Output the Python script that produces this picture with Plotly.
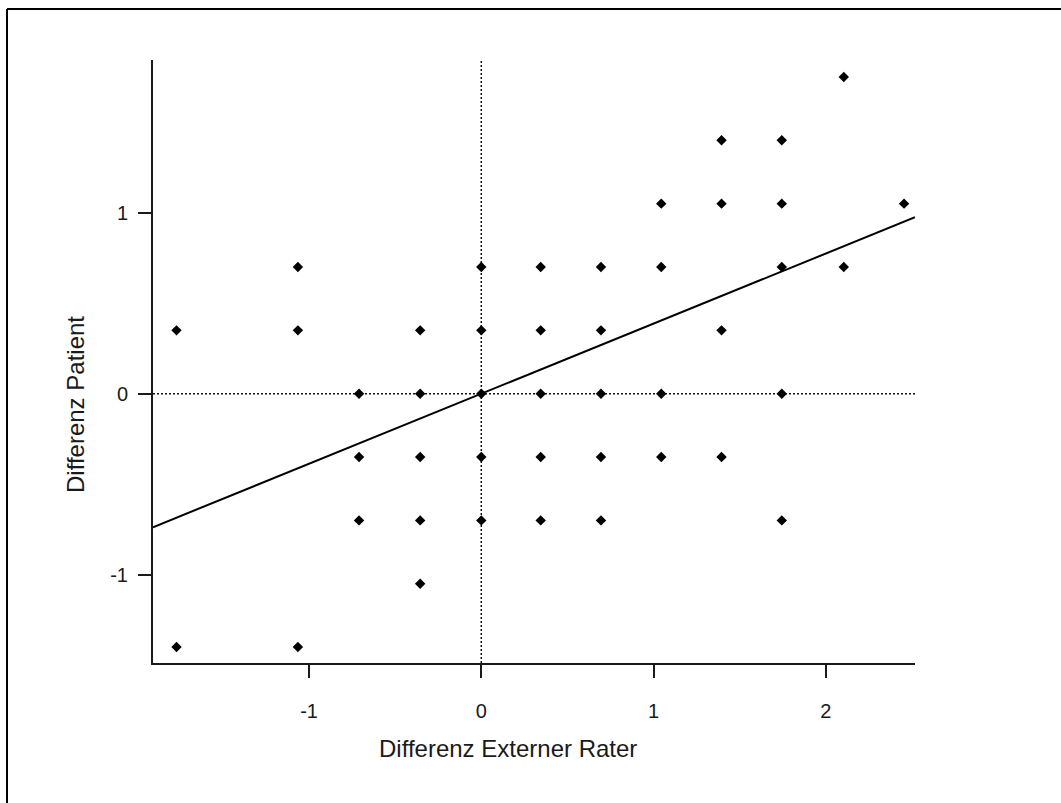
import plotly.graph_objects as go

# ---- data ----
diff_rater = [
    2.105,
    1.395, 1.745,
    1.045, 1.395, 1.745, 2.455,
    -1.065, 0.0, 0.345, 0.695, 1.045, 1.745, 2.105,
    -1.77, -1.065, -0.355, 0.0, 0.345, 0.695, 1.395,
    -0.71, -0.355, 0.0, 0.345, 0.695, 1.045, 1.745,
    -0.71, -0.355, 0.0, 0.345, 0.695, 1.045, 1.395,
    -0.71, -0.355, 0.0, 0.345, 0.695, 1.745,
    -0.355,
    -1.77, -1.065,
]
diff_patient = [
    1.75,
    1.40, 1.40,
    1.05, 1.05, 1.05, 1.05,
    0.70, 0.70, 0.70, 0.70, 0.70, 0.70, 0.70,
    0.35, 0.35, 0.35, 0.35, 0.35, 0.35, 0.35,
    0.0, 0.0, 0.0, 0.0, 0.0, 0.0, 0.0,
    -0.35, -0.35, -0.35, -0.35, -0.35, -0.35, -0.35,
    -0.70, -0.70, -0.70, -0.70, -0.70, -0.70,
    -1.05,
    -1.40, -1.40,
]

fit_slope = 0.387
fit_intercept = 0.0

x_range = [-1.9065, 2.5186]
y_range = [-1.488, 1.8436]

x_tickvals = [-1, 0, 1, 2]
x_ticktext = ["-1", "0", "1", "2"]
y_tickvals = [-1, 0, 1]
y_ticktext = ["-1", "0", "1"]

x_title = "Differenz Externer Rater"
y_title = "Differenz Patient"

# ---- figure ----
FONT = "Arial, 'Liberation Sans', sans-serif"
INK = "#1a1a1a"

fig = go.Figure()

fit_x = x_range
fit_y = [fit_intercept + fit_slope * v for v in fit_x]

fig.add_hline(y=0, line=dict(color="#111111", width=1.5, dash="2px,2px"), layer="below")
fig.add_vline(x=0, line=dict(color="#111111", width=1.5, dash="2px,2px"), layer="below")

fig.add_trace(go.Scatter(
    x=fit_x, y=fit_y, mode="lines",
    line=dict(color="black", width=2),
    showlegend=False, hoverinfo="skip", cliponaxis=True,
))

fig.add_trace(go.Scatter(
    x=diff_rater, y=diff_patient, mode="markers",
    marker=dict(symbol="diamond", size=8, color="black", line=dict(width=0)),
    showlegend=False,
))

axis_common = dict(
    showline=True, linewidth=2, linecolor=INK,
    showgrid=False, zeroline=False,
    ticks="outside", ticklen=13, tickwidth=2, tickcolor=INK,
    tickfont=dict(family=FONT, size=20, color=INK),
)

fig.update_xaxes(range=x_range, tickvals=x_tickvals, ticktext=x_ticktext,
                 ticklabelstandoff=16, **axis_common)
fig.update_yaxes(range=y_range, tickvals=y_tickvals, ticktext=y_ticktext,
                 ticklabelstandoff=6, **axis_common)

# axis titles (positioned as in the reference)
fig.add_annotation(text=x_title, xref="paper", yref="paper",
                   x=0.4659, y=-0.141, xanchor="center", yanchor="middle",
                   showarrow=False, font=dict(family=FONT, size=24, color=INK))
fig.add_annotation(text=y_title, xref="paper", yref="paper",
                   x=-0.1024, y=0.4295, xanchor="center", yanchor="middle",
                   textangle=-90,
                   showarrow=False, font=dict(family=FONT, size=24, color=INK))

# outer frame: only the top and left edges are visible in the reference
frame_left, frame_top = -0.1916, 1.0846
fig.add_shape(type="line", xref="paper", yref="paper",
              x0=frame_left, y0=frame_top, x1=1.25, y1=frame_top,
              line=dict(color="black", width=2), layer="above")
fig.add_shape(type="line", xref="paper", yref="paper",
              x0=frame_left, y0=frame_top, x1=frame_left, y1=-0.3,
              line=dict(color="black", width=2), layer="above")

fig.update_layout(
    width=1061, height=803,
    margin=dict(l=153, r=146, t=60, b=140),
    paper_bgcolor="white", plot_bgcolor="white",
    font=dict(family=FONT, color=INK),
    showlegend=False,
)

# remove the default page margin so the figure fills the window exactly
fig.write_html(
    "out.html",
    config={"displayModeBar": False},
    post_script="document.body.style.margin='0';document.body.style.overflow='hidden';",
)
